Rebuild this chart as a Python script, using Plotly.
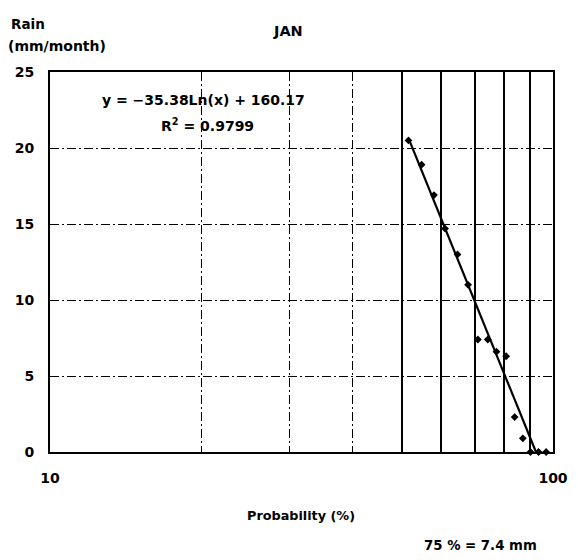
import plotly.graph_objects as go
import math

# Data
probability = [51.6, 54.8, 58.0, 61.0, 64.6, 67.8, 70.9, 74.2, 77.2, 80.7, 83.9, 87.1, 90.2, 93.6, 96.9]
rain = [20.5, 18.9, 16.9, 14.7, 13.0, 11.0, 7.4, 7.4, 6.6, 6.3, 2.3, 0.9, 0.0, 0.0, 0.0]

trend_a = -35.38
trend_b = 160.17
x_major = [10, 20, 30, 40, 100]
x_major_text = ["10", "", "", "", "100"]
x_minor = [50, 60, 70, 80, 90]
y_ticks = [0, 5, 10, 15, 20, 25]

# trendline from the fitted equation, clipped at y = 0
x_start = probability[0]
x_end = math.exp(-trend_b / trend_a)
trend_x = [x_start, x_end]
trend_y = [trend_a * math.log(v) + trend_b for v in trend_x]

FONT = "DejaVu Sans, Verdana, sans-serif"
DASH = "9px,3px,2px,3px"

# plot area in page pixels (page body has an 8px offset)
PL, PT, PW, PH = 50, 72, 503, 380

fig = go.Figure()
fig.add_trace(go.Scatter(x=trend_x, y=trend_y, mode="lines",
                         line=dict(color="black", width=2.2), hoverinfo="skip"))
fig.add_trace(go.Scatter(x=probability, y=rain, mode="markers",
                         marker=dict(color="black", size=6, symbol="diamond"),
                         cliponaxis=False))

fig.update_layout(
    width=578, height=560,
    margin=dict(l=PL - 8, r=578 - (PL - 8) - PW, t=PT - 8, b=560 - (PT - 8) - PH),
    paper_bgcolor="white", plot_bgcolor="white",
    showlegend=False,
    font=dict(family=FONT, size=13, color="black"),
)
fig.update_xaxes(
    type="log", range=[1, 2], automargin=False,
    tickmode="array", tickvals=x_major, ticktext=x_major_text,
    showgrid=True, gridcolor="black", griddash=DASH, gridwidth=1,
    minor=dict(tickmode="array", tickvals=x_minor, showgrid=True,
               gridcolor="black", griddash="solid", gridwidth=1.5, ticks=""),
    showline=True, linecolor="black", linewidth=2, mirror=True,
    ticks="", ticklabelstandoff=12,
    tickfont=dict(family=FONT, size=14, color="black", weight="bold"),
    zeroline=False,
)
fig.update_yaxes(
    range=[0, 25], tickvals=y_ticks, automargin=False,
    showgrid=True, gridcolor="black", griddash=DASH, gridwidth=1,
    showline=True, linecolor="black", linewidth=2, mirror=True,
    ticks="", ticklabelstandoff=11,
    tickfont=dict(family=FONT, size=14, color="black", weight="bold"),
    zeroline=False,
)

# annotations: (text, page x, page y, xanchor, size)
ann = [
    ("Rain", 9, 24, "left", 13.5),
    ("(mm/month)", 6, 46, "left", 14),
    ("JAN", 288, 31, "center", 14.5),
    ("y = \u221235.38Ln(x) + 160.17", 203, 100, "center", 14),
    ("R<sup>2</sup> = 0.9799", 207, 125, "center", 14),
    ("Probability (%)", 301, 515, "center", 12.8),
    ("75 % = 7.4 mm", 480, 545, "center", 13.3),
]
for text, px, py, xa, sz in ann:
    fig.add_annotation(
        text=text, x=(px - PL) / PW, y=1 - (py - PT) / PH,
        xref="paper", yref="paper",
        xanchor=xa, yanchor="middle",
        showarrow=False,
        font=dict(family=FONT, size=sz, color="black", weight="bold"),
    )

fig.write_html("out.html")
